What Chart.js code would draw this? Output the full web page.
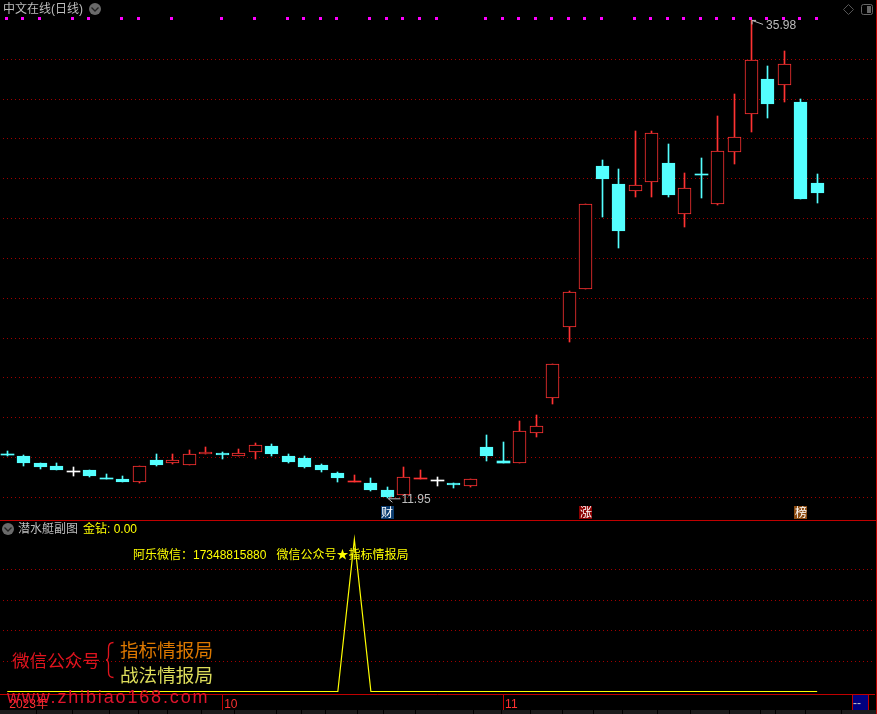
<!DOCTYPE html>
<html>
<head>
<meta charset="utf-8">
<script src="https://cdn.jsdelivr.net/npm/chart.js@4/dist/chart.umd.js"></script>
<style>
  html, body { margin: 0; padding: 0; background: #000; width: 877px; height: 714px; overflow: hidden; }
  body { position: relative; font-family: "Liberation Sans", "Noto Sans CJK SC", sans-serif; }
  canvas { position: absolute; left: -1px; }
  #main { top: 0; }
  #sub { top: 521px; }
  .t { position: absolute; white-space: pre; line-height: 1; font-size: 12px; }
  .cjk { font-family: "Noto Sans CJK SC", sans-serif; }
  .line { position: absolute; background: #c00000; }
  svg { position: absolute; left: 0; top: 0; }
</style>
</head>
<body>
<canvas id="main" width="876" height="520"></canvas>
<canvas id="sub" width="876" height="189"></canvas>

<div class="line" style="left:0;top:520px;width:877px;height:1px"></div>
<div class="line" style="left:876px;top:0;width:1px;height:714px"></div>
<div id="tabs"></div>
<div style="position:absolute;left:852px;top:695px;width:15px;height:15px;background:#000080;border-left:1px solid #c00000;border-right:1px solid #c00000"></div>

<svg width="877" height="714">
  <circle cx="95" cy="9" r="6" fill="#6a6a6a"/>
  <path d="M91.5 7.5 L95 11 L98.5 7.5" fill="none" stroke="#222" stroke-width="1.3"/>
  <circle cx="8" cy="529" r="6" fill="#6a6a6a"/>
  <path d="M4.5 527.5 L8 531 L11.5 527.5" fill="none" stroke="#222" stroke-width="1.3"/>
  <path d="M848.5 4.5 L853.5 9.5 L848.5 14.5 L843.5 9.5 Z" fill="none" stroke="#555" stroke-width="1"/>
  <rect x="861.5" y="4.5" width="11" height="10" rx="2" fill="none" stroke="#666" stroke-width="1"/>
  <rect x="867" y="6" width="4" height="7" fill="#666"/>
  <path d="M113.5 642.5 Q108.5 642.5 108.5 648 L108.5 655 Q108.5 660 106 660 Q108.5 660 108.5 665 L108.5 672 Q108.5 677.5 113.5 677.5" fill="none" stroke="#e0141e" stroke-width="1.3"/>
</svg>

<div class="t" style="left:3px;top:3px;color:#bdbdbd">中文在线(日线)</div>
<div class="t" style="left:18px;top:523px;color:#bdbdbd">潜水艇副图</div>
<div class="t" style="left:83px;top:523px;color:#ffff00">金钻: 0.00</div>
<div class="t" style="left:133px;top:549px;color:#ffff00">阿乐微信：17348815880   微信公众号★指标情报局</div>
<div class="t cjk" style="left:12px;top:651px;font-size:17.6px;color:#e0141e">微信公众号</div>
<div class="t cjk" style="left:120px;top:640px;font-size:18.6px;color:#dc7800">指标情报局</div>
<div class="t cjk" style="left:120px;top:665px;font-size:18.6px;color:#dcdc5a">战法情报局</div>
<div class="t" style="left:7px;top:688px;font-size:18px;letter-spacing:1.85px;color:#e0142c">www.zhibiao168.com</div>
<div class="t" style="left:853px;top:697px;color:#c8c8c8">--</div>

<script>
  var categories = [
    "09-12", "09-13", "09-14", "09-15", "09-18", "09-19", "09-20", "09-21", "09-22", "09-25",
    "09-26", "09-27", "09-28", "10-09", "10-10", "10-11", "10-12", "10-13", "10-16", "10-17",
    "10-18", "10-19", "10-20", "10-23", "10-24", "10-25", "10-26", "10-27", "10-30", "10-31",
    "11-01", "11-02", "11-03", "11-06", "11-07", "11-08", "11-09", "11-10", "11-13", "11-14",
    "11-15", "11-16", "11-17", "11-20", "11-21", "11-22", "11-23", "11-24", "11-27", "11-28",
    "", "", ""
  ];
  var opens = [
    14.17, 14.07, 13.72, 13.57, 13.29, 13.37, 12.99, 12.92, 12.78, 13.87,
    13.72, 13.64, 14.17, 14.23, 14.07, 14.28, 14.58, 14.07, 13.97, 13.62,
    13.22, 12.77, 12.72, 12.37, 12.13, 12.92, 12.80, 12.72, 12.58, 14.53,
    13.82, 13.74, 15.24, 16.97, 20.54, 22.45, 28.64, 27.74, 27.37, 27.85,
    28.79, 26.25, 28.24, 26.75, 29.36, 31.27, 33.01, 32.73, 31.86, 27.79
  ];
  var closes = [
    14.12, 13.72, 13.52, 13.37, 13.29, 13.07, 12.94, 12.77, 13.56, 13.62,
    13.87, 14.17, 14.28, 14.12, 14.23, 14.63, 14.17, 13.77, 13.52, 13.37,
    12.97, 12.82, 12.37, 12.02, 13.00, 12.97, 12.80, 12.62, 12.90, 14.07,
    13.74, 15.32, 15.57, 18.68, 22.30, 26.72, 27.99, 25.38, 27.67, 30.28,
    27.18, 27.52, 28.19, 29.38, 30.08, 33.95, 31.76, 33.75, 26.98, 27.29
  ];
  var highs = [
    14.33, 14.12, 13.72, 13.72, 13.54, 13.37, 13.17, 13.07, 13.56, 14.17,
    14.17, 14.38, 14.53, 14.28, 14.43, 14.73, 14.68, 14.17, 14.07, 13.67,
    13.27, 13.12, 12.97, 12.52, 13.52, 13.37, 13.03, 12.72, 12.90, 15.13,
    14.78, 15.83, 16.13, 18.68, 22.36, 26.72, 28.94, 28.49, 30.40, 30.40,
    29.75, 28.29, 29.04, 31.15, 32.26, 35.98, 33.66, 34.42, 32.01, 28.24
  ];
  var lows = [
    14.07, 13.57, 13.42, 13.37, 13.07, 13.02, 12.92, 12.77, 12.73, 13.57,
    13.69, 13.64, 14.17, 13.92, 14.07, 13.92, 14.07, 13.72, 13.47, 13.27,
    12.77, 12.77, 12.32, 11.95, 12.13, 12.92, 12.57, 12.47, 12.52, 13.82,
    13.74, 13.74, 15.04, 16.70, 19.82, 22.45, 26.08, 24.52, 27.08, 27.08,
    27.08, 25.58, 27.03, 26.68, 28.74, 30.36, 31.07, 31.87, 26.98, 26.78
  ];
  var signalDots = [
    36.06, 36.06, 36.06, null, 36.06, 36.06, null, 36.06, 36.06, null,
    36.06, null, null, 36.06, null, 36.06, null, 36.06, 36.06, 36.06,
    36.06, null, 36.06, 36.06, 36.06, 36.06, 36.06, null, null, 36.06,
    36.06, 36.06, 36.06, 36.06, 36.06, 36.06, 36.06, null, 36.06, 36.06,
    36.06, 36.06, 36.06, 36.06, 36.06, 36.06, 36.06, 36.06, 36.06, 36.06
  ];
  var subValues = [
    0, 0, 0, 0, 0, 0, 0, 0, 0, 0,
    0, 0, 0, 0, 0, 0, 0, 0, 0, 0,
    0, 100, 0, 0, 0, 0, 0, 0, 0, 0,
    0, 0, 0, 0, 0, 0, 0, 0, 0, 0,
    0, 0, 0, 0, 0, 0, 0, 0, 0, 0
  ];
  var priceGrid = [12, 14, 16, 18, 20, 22, 24, 26, 28, 30, 32, 34];
  var subGrid = [20, 40, 60, 80];
  var tickIndex = [0, 13, 30];
  var tickText = ["2023年", "10", "11"];
  var badgeIndex = [23, 35, 48];
  var badgeText = ["财", "涨", "榜"];
  var badgeColor = ["#0b3c6f", "#8b0000", "#8a4a10"];

  var RED = "#ff3232";
  var CYAN = "#54ffff";
  var GRID = "#a00000";

  var candleColor = opens.map((o, i) =>
    closes[i] > o ? RED : closes[i] < o ? CYAN : "#ffffff"
  );
  var isThin = opens.map((o, i) => Math.abs(o - closes[i]) <= 0.1);

  // bottom scroll bar segments
  var tabEdges = [0, 37, 73, 110, 139, 168, 202, 235, 277, 302, 326, 358, 384, 416, 474, 502, 531, 563, 594, 623, 658, 691, 730, 761, 776, 806, 842, 877];
  tabEdges.slice(1).forEach((end, i) => {
    var d = document.createElement("div");
    d.style.cssText = "position:absolute;top:710px;height:4px;background:#1c1c1c;left:" + tabEdges[i] + "px;width:" + (end - tabEdges[i] - 1) + "px";
    document.body.appendChild(d);
  });

  // keep the candles and dots on whole pixels so they stay sharp
  var snapBars = {
    id: "snapBars",
    afterDatasetsUpdate(chart) {
      chart.data.datasets.forEach((ds, d) => {
        chart.getDatasetMeta(d).data.forEach((el) => {
          if (ds.type === "line") {
            el.x = Math.round(el.x - 0.5) - 0.5;
            el.y = Math.round(el.y - 0.5) + 0.5;
            return;
          }
          el.x = Math.round(el.x - 0.5) + 0.5;
          el.y = Math.round(el.y);
          el.base = Math.round(el.base);
          if (el.y === el.base) el.base = el.y + 1;
          el.height = el.base - el.y;
        });
      });
    },
  };

  // high / low notes and the 财 涨 榜 badges
  var notes = {
    id: "notes",
    afterDatasetsDraw(chart) {
      var ctx = chart.ctx;
      var x = chart.scales.x;
      var y = chart.scales.y;
      var hi = highs.indexOf(Math.max(...highs));
      var lo = lows.indexOf(Math.min(...lows));
      var hx = x.getPixelForValue(hi);
      var hy = y.getPixelForValue(highs[hi]);
      var lx = x.getPixelForValue(lo);
      var ly = y.getPixelForValue(lows[lo]);

      ctx.save();
      ctx.strokeStyle = "#bdbdbd";
      ctx.fillStyle = "#bdbdbd";
      ctx.lineWidth = 1;
      ctx.beginPath();
      ctx.moveTo(hx + 1, hy + 0.5);
      ctx.lineTo(hx + 12, hy + 4.5);
      ctx.moveTo(hx + 1, hy + 0.5);
      ctx.lineTo(hx + 5, hy + 0.5);
      ctx.moveTo(hx + 1, hy + 0.5);
      ctx.lineTo(hx + 1, hy + 4.5);
      ctx.moveTo(lx + 1, ly + 0.5);
      ctx.lineTo(lx + 13, ly + 0.5);
      ctx.moveTo(lx + 1, ly + 0.5);
      ctx.lineTo(lx + 5, ly - 3);
      ctx.moveTo(lx + 1, ly + 0.5);
      ctx.lineTo(lx + 5, ly + 4);
      ctx.stroke();

      ctx.font = '12px "Liberation Sans", sans-serif';
      ctx.textBaseline = "middle";
      ctx.textAlign = "left";
      ctx.fillText(highs[hi].toFixed(2), hx + 15, hy + 6);
      ctx.fillText(lows[lo].toFixed(2), lx + 14, ly + 1.5);

      ctx.font = '12px "Noto Sans CJK SC", sans-serif';
      ctx.textAlign = "center";
      badgeIndex.forEach((idx, i) => {
        var bx = x.getPixelForValue(idx);
        ctx.fillStyle = badgeColor[i];
        ctx.fillRect(Math.round(bx - 6.5), 506, 13, 13);
        ctx.fillStyle = "#ffffff";
        ctx.fillText(badgeText[i], Math.round(bx), 512.5);
      });
      ctx.restore();
    },
  };

  new Chart(document.getElementById("main").getContext("2d"), {
    type: "bar",
    plugins: [snapBars, notes],
    data: {
      labels: categories,
      datasets: [
        {
          type: "line",
          label: "信号",
          data: signalDots,
          showLine: false,
          pointStyle: "rect",
          pointRadius: 2.13,
          pointBackgroundColor: "#ff00ff",
          pointBorderWidth: 0,
          order: 0,
        },
        {
          label: "实体",
          data: opens.map((o, i) => [o, closes[i]]),
          grouped: false,
          barThickness: 13,
          minBarLength: 1,
          backgroundColor: candleColor.map((c, i) => (c === RED && !isThin[i] ? "#000000" : c)),
          borderColor: candleColor,
          borderWidth: isThin.map((thin) => (thin ? 0 : 1)),
          borderSkipped: false,
          order: 1,
        },
        {
          label: "影线",
          data: lows.map((l, i) => [l, highs[i]]),
          grouped: false,
          barThickness: 1,
          backgroundColor: candleColor,
          order: 2,
        },
      ],
    },
    options: {
      responsive: false,
      animation: false,
      layout: { padding: 0, autoPadding: false },
      plugins: { legend: { display: false }, title: { display: false }, tooltip: { enabled: false } },
      scales: {
        x: { display: false, offset: true },
        y: {
          min: 10.86,
          max: 36.98,
          bounds: "data",
          afterBuildTicks: (scale) => {
            scale.ticks = priceGrid.map((v) => ({ value: v }));
          },
          ticks: { display: false, autoSkip: false },
          border: { display: false, dash: [1, 3] },
          grid: { color: GRID, drawTicks: false },
        },
      },
    },
  });

  new Chart(document.getElementById("sub").getContext("2d"), {
    type: "line",
    data: {
      labels: categories,
      datasets: [
        {
          label: "金钻",
          data: subValues,
          borderColor: "#ffff00",
          borderWidth: 1.2,
          pointRadius: 0,
          tension: 0,
        },
      ],
    },
    options: {
      responsive: false,
      animation: false,
      layout: { padding: 0, autoPadding: false },
      plugins: { legend: { display: false }, title: { display: false }, tooltip: { enabled: false } },
      scales: {
        x: {
          offset: true,
          afterFit: (scale) => {
            scale.height = 16;
          },
          ticks: {
            autoSkip: false,
            maxRotation: 0,
            minRotation: 0,
            align: "start",
            padding: -13,
            labelOffset: 2,
            color: RED,
            font: { family: '"Liberation Sans", "Noto Sans CJK SC", sans-serif', size: 12 },
            callback: (value, index) => {
              var k = tickIndex.indexOf(index);
              return k < 0 ? "" : tickText[k];
            },
          },
          border: { display: true, color: "#c00000", width: 1 },
          grid: {
            offset: false,
            drawOnChartArea: false,
            tickLength: 16,
            tickColor: (ctx) => (ctx.index > 0 && tickIndex.includes(ctx.index) ? "#c00000" : "rgba(0,0,0,0)"),
          },
        },
        y: {
          min: -1.645,
          max: 112.17,
          bounds: "data",
          afterBuildTicks: (scale) => {
            scale.ticks = subGrid.map((v) => ({ value: v }));
          },
          ticks: { display: false, autoSkip: false },
          border: { display: false, dash: [1, 3] },
          grid: { color: GRID, drawTicks: false },
        },
      },
    },
  });
</script>
</body>
</html>
